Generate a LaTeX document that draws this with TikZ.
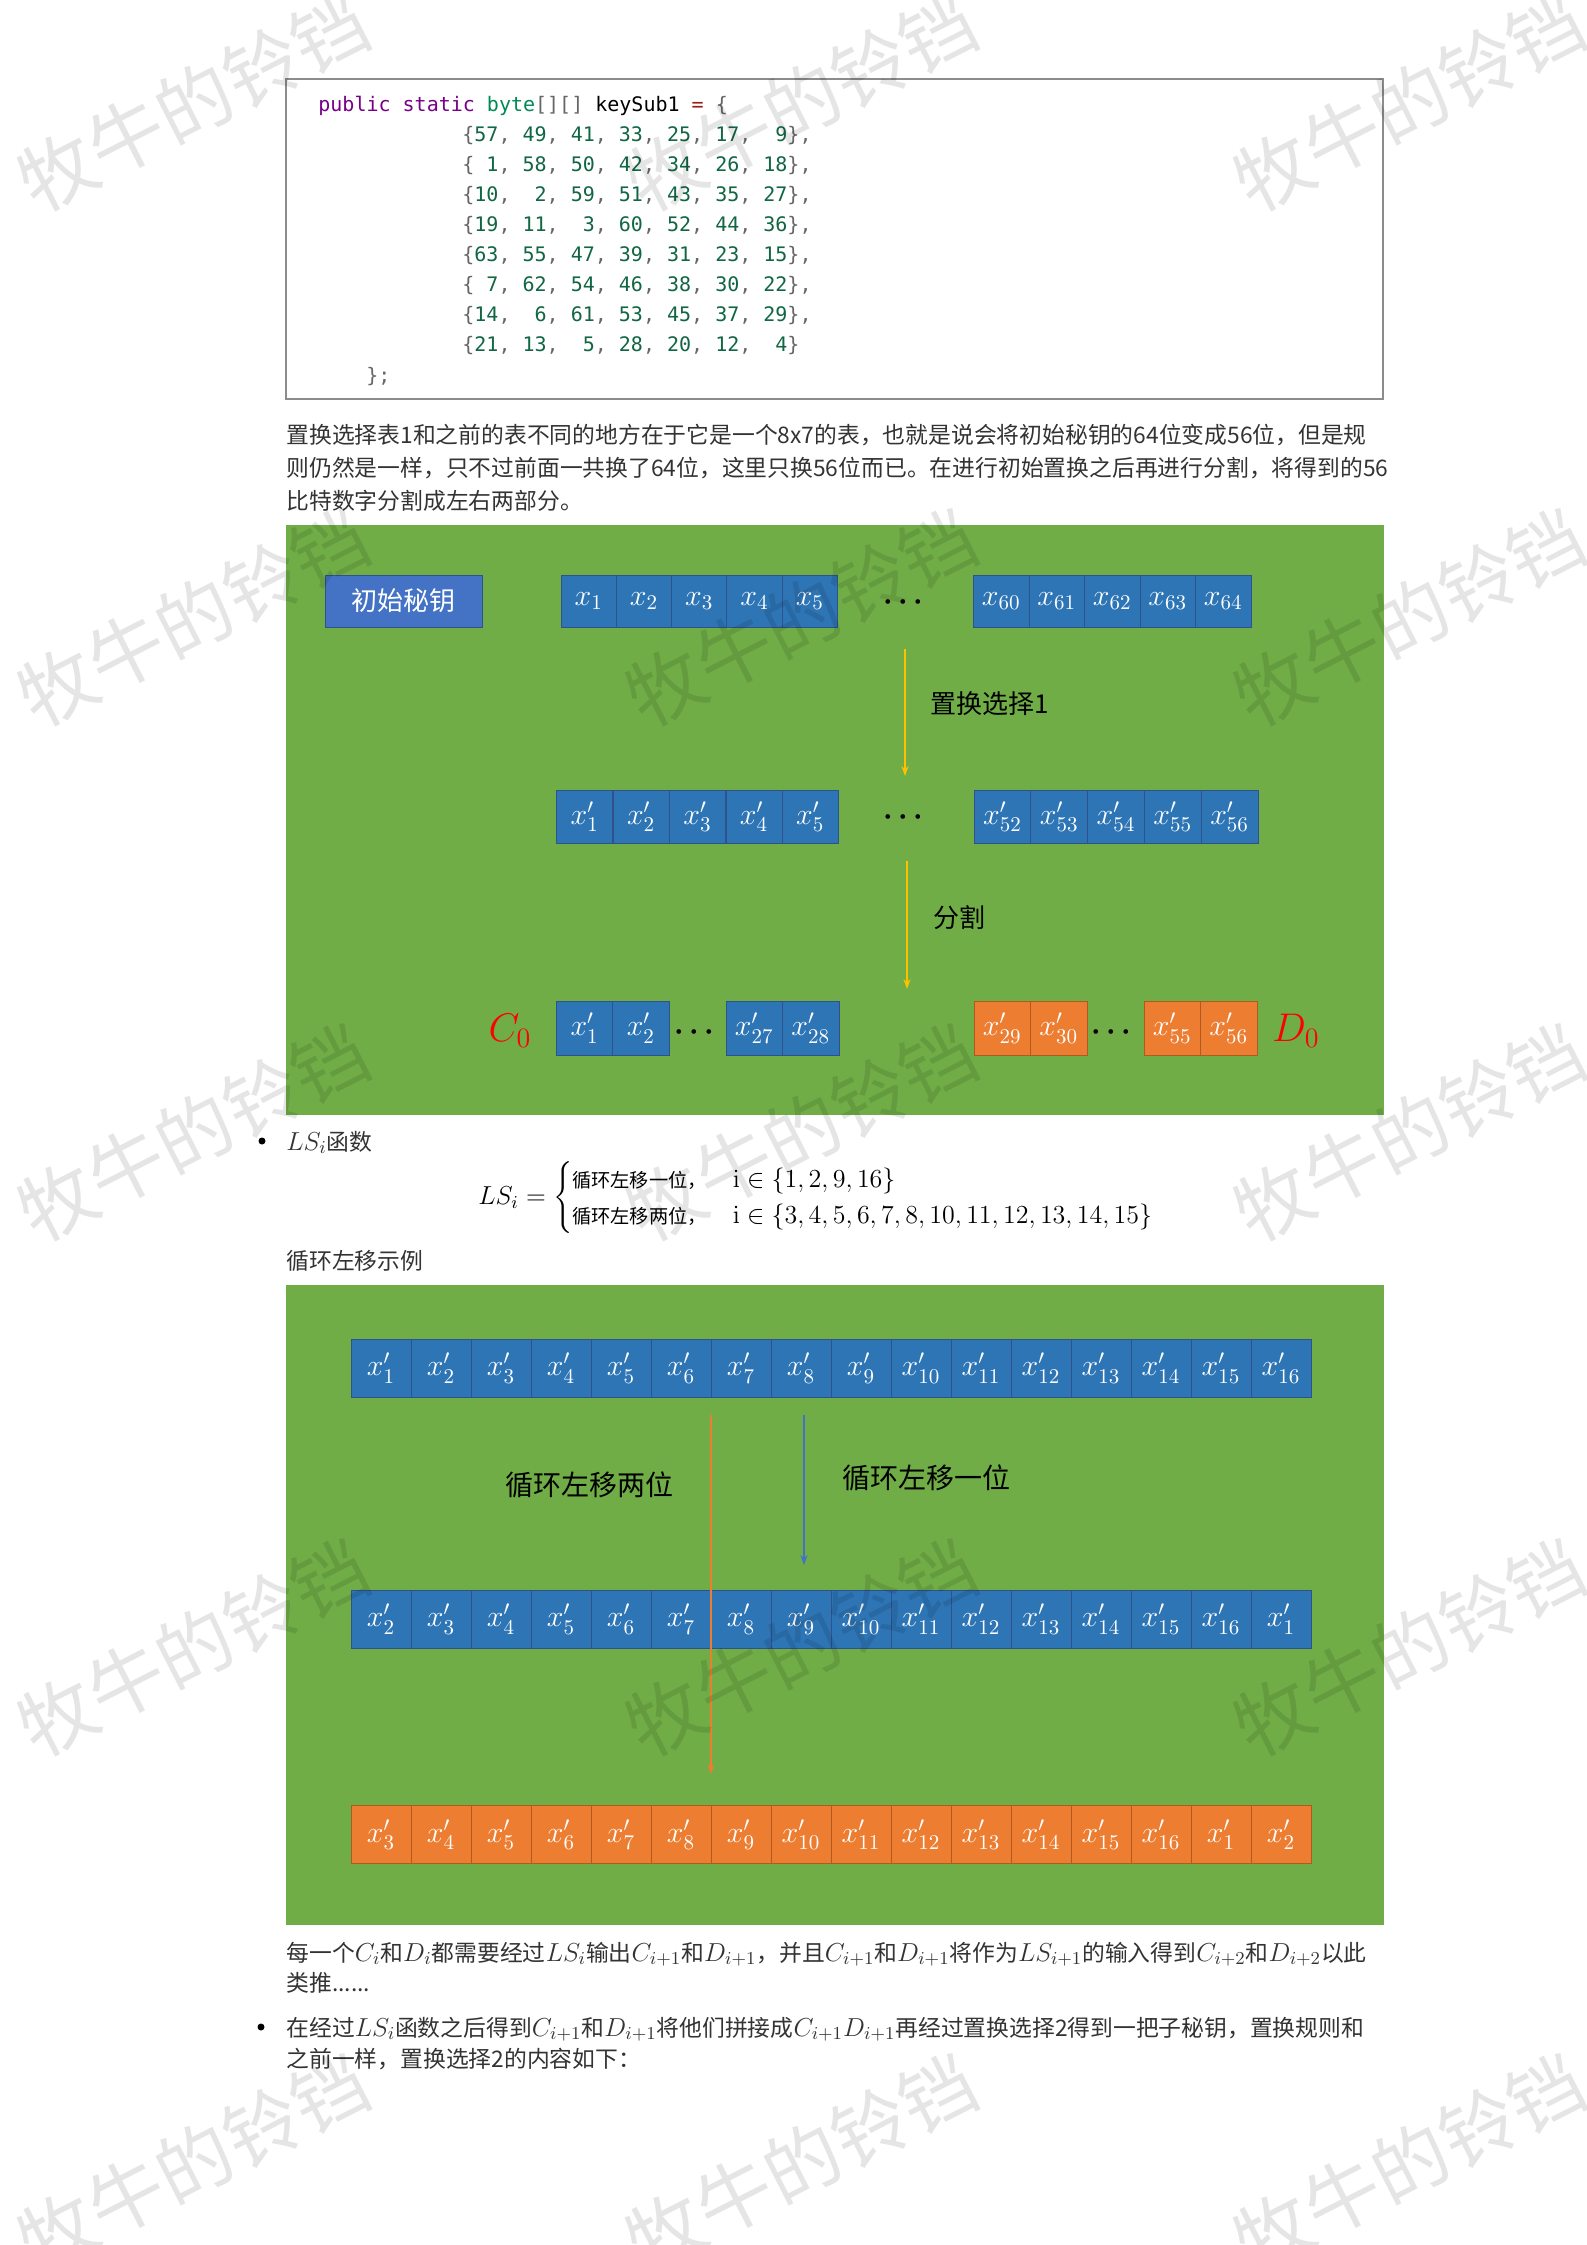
\RequirePackage{fix-cm}
\documentclass[tikz,border=0pt]{standalone}
\usepackage{amsmath}
\usepackage[no-math]{fontspec}
\setmainfont{Noto Sans CJK SC}
\setmonofont{DejaVu Sans Mono}
\usetikzlibrary{positioning,arrows.meta}

\definecolor{cellblue}{HTML}{2E75B6}
\definecolor{cellline}{HTML}{2F528F}
\definecolor{keyblue}{HTML}{4472C4}
\definecolor{cellorange}{HTML}{ED7D31}
\definecolor{orangeline}{HTML}{AE5A21}
\definecolor{bggreen}{HTML}{70AD47}
\definecolor{arrowyellow}{HTML}{FFC000}
\definecolor{codeframe}{HTML}{8C8C8C}
\definecolor{kwcol}{HTML}{770088}
\definecolor{typecol}{HTML}{008855}
\definecolor{numcol}{HTML}{116644}
\definecolor{opcol}{HTML}{981A1A}
\definecolor{pucol}{HTML}{666666}
\definecolor{bodytext}{HTML}{333333}

\newcommand\kn[1]{\makebox[1.204em][r]{\textcolor{numcol}{#1}}}
\newcommand\kp[1]{\textcolor{pucol}{#1}}
\newcommand\krow[8]{\kp{\{}\kn{#1}\kp{,} \kn{#2}\kp{,} \kn{#3}\kp{,} \kn{#4}\kp{,} \kn{#5}\kp{,} \kn{#6}\kp{,} \kn{#7}\kp{\}#8}}
\newcommand\mth[1]{{\fontsize{13}{15}\selectfont$#1$}}

\begin{document}
\begin{tikzpicture}[x=0.5pt,y=-0.5pt,
		cellb/.style={draw=cellline,fill=cellblue,text=white,inner sep=0pt,minimum width=27.75pt,minimum height=26pt,font=\fontsize{15}{17}\selectfont},
		cello/.style={cellb,draw=orangeline,fill=cellorange},
		cellw/.style={minimum width=30pt,minimum height=29pt},
		keybox/.style={draw=cellline,fill=keyblue,text=white,minimum width=78.5pt,minimum height=26pt,font=\fontsize{13}{15}\selectfont},
		dotsn/.style={inner sep=0pt,font=\fontsize{15}{17}\selectfont},
		steplabel/.style={anchor=west,inner sep=0pt,font=\fontsize{13}{15}\selectfont},
		cdlabel/.style={text=red,font=\fontsize{20}{22}\selectfont},
		codeline/.style={anchor=base west,inner sep=0pt,font=\ttfamily\fontsize{10}{12}\selectfont},
		bodyline/.style={anchor=base west,inner sep=0pt,text=bodytext,font=\fontsize{11.4}{14}\selectfont},
		bulletdot/.style={circle,fill=black,inner sep=0pt,minimum size=3.5pt},
		yarrow/.style={draw=arrowyellow,line width=0.7pt,-{Stealth[length=5pt,width=3.6pt]}},
		wmark/.style={text=black,text opacity=0.1,rotate=27,font=\fontsize{38}{40}\selectfont}]
		\useasboundingbox (0,0) rectangle (1586,2245);
		\fill[white] (0,0) rectangle (1586,2245);

		% code block
		\draw[draw=codeframe,line width=1.2pt] (286,79) rectangle (1383,399);
		\node[codeline] (c0) at (318,111.5) {\textcolor{kwcol}{public static} \textcolor{typecol}{byte}\kp{[][]} keySub1 \textcolor{opcol}{=} \kp{\{}};
		\foreach \row [count=\k] in {{\krow{57}{49}{41}{33}{25}{17}{9}{,}},
				{\krow{1}{58}{50}{42}{34}{26}{18}{,}},
				{\krow{10}{2}{59}{51}{43}{35}{27}{,}},
				{\krow{19}{11}{3}{60}{52}{44}{36}{,}},
				{\krow{63}{55}{47}{39}{31}{23}{15}{,}},
				{\krow{7}{62}{54}{46}{38}{30}{22}{,}},
				{\krow{14}{6}{61}{53}{45}{37}{29}{,}},
				{\krow{21}{13}{5}{28}{20}{12}{4}{}}}
			\node[codeline] (c\k) at (462,{111.5+30.05*\k}) {\row};
		\node[codeline] (c9) at (366,382) {\kp{\};}};

		\node[bodyline] (p1) at (286,443) {置换选择表1和之前的表不同的地方在于它是一个8x7的表，也就是说会将初始秘钥的64位变成56位，但是规};
		\node[bodyline] (p2) at (286,476) {则仍然是一样，只不过前面一共换了64位，这里只换56位而已。在进行初始置换之后再进行分割，将得到的56};
		\node[bodyline] (p3) at (286,509) {比特数字分割成左右两部分。};

		% permuted choice 1 and split
		\fill[bggreen] (286,525) rectangle (1384,1115);
		\node[keybox] (key) at (403.5,601) {初始秘钥};
		\foreach \i in {1,...,5}
			\node[cellb] (a\i) at ({561+(\i-0.5)*55.3},601) {$x_{\i}$};
		\foreach \i [count=\k] in {60,...,64}
			\node[cellb] (b\k) at ({973.5+(\k-0.5)*55.5},601) {$x_{\i}$};
		\node[dotsn] (d1) at (906,602) {$\boldsymbol{\cdots}$};

		\foreach \i in {1,...,5}
			\node[cellb,minimum width=28pt,minimum height=26.5pt] (e\i) at ({556.5+(\i-0.5)*56.4},817) {$x'_{\i}$};
		\foreach \i [count=\k] in {52,...,56}
			\node[cellb,minimum width=28.4pt,minimum height=26.5pt] (f\k) at ({974+(\k-0.5)*56.8},817) {$x'_{\i}$};
		\node[dotsn] (d2) at (906,817) {$\boldsymbol{\cdots}$};

		\foreach \i [count=\k] in {1,2}
			\node[cellb,minimum width=28.1pt,minimum height=27pt] (g\k) at ({556.5+(\k-0.5)*56.25},1028) {$x'_{\i}$};
		\foreach \i [count=\k] in {27,28}
			\node[cellb,minimum width=28.25pt,minimum height=27pt] (h\k) at ({726+(\k-0.5)*56.5},1028) {$x'_{\i}$};
		\foreach \i [count=\k] in {29,30}
			\node[cello,minimum width=28.25pt,minimum height=27pt] (m\k) at ({974+(\k-0.5)*56.5},1028) {$x'_{\i}$};
		\foreach \i [count=\k] in {55,56}
			\node[cello,minimum width=28.25pt,minimum height=27pt] (n\k) at ({1144+(\k-0.5)*56.5},1028) {$x'_{\i}$};
		\node[dotsn] (d3) at (697,1032) {$\boldsymbol{\cdots}$};
		\node[dotsn] (d4) at (1114,1032) {$\boldsymbol{\cdots}$};
		\node[cdlabel] (C0) at (510,1031) {$C_0$};
		\node[cdlabel] (D0) at (1296,1031) {$D_0$};

		\coordinate (k1a) at (905,649);
		\coordinate (k1b) at (905,776);
		\coordinate (k2a) at (907,861);
		\coordinate (k2b) at (907,989);
		\draw[yarrow] (k1a) -- (k1b);
		\draw[yarrow] (k2a) -- (k2b);
		\node[steplabel] (l1) at (930,704) {置换选择1};
		\node[steplabel] (l2) at (933,918) {分割};

		% LS function
		\node[bulletdot] (u1) at (262,1141) {};
		\node[bodyline] (ls) at (286,1150) {\mth{LS_i}函数};
		\node[anchor=west,inner sep=0pt] (lsf) at (478,1198) {\mth{LS_i=\begin{cases}\mbox{\fontsize{9.6}{11}\selectfont 循环左移一位，} & \mathrm{i}\in\{1,2,9,16\}\\ \mbox{\fontsize{9.6}{11}\selectfont 循环左移两位，} & \mathrm{i}\in\{3,4,5,6,7,8,10,11,12,13,14,15\}\end{cases}}};
		\node[bodyline] (ex) at (286,1269) {循环左移示例};

		% rotation example
		\fill[bggreen] (286,1285) rectangle (1384,1925);
		\foreach \i in {1,...,16}
			\node[cellb,cellw] (r\i) at ({351+(\i-0.5)*60},1368) {$x'_{\i}$};
		\foreach \i in {1,...,16} {
			\pgfmathtruncatemacro\j{mod(\i,16)+1}
			\node[cellb,cellw] (s\i) at ({351+(\i-0.5)*60},1619) {$x'_{\j}$};
		}
		\foreach \i in {1,...,16} {
			\pgfmathtruncatemacro\j{mod(\i+1,16)+1}
			\node[cello,cellw] (o\i) at ({351+(\i-0.5)*60},1834.5) {$x'_{\j}$};
		}
		\coordinate (k3a) at (711,1415);
		\coordinate (k3b) at (711,1774);
		\coordinate (k4a) at (804,1415);
		\coordinate (k4b) at (804,1565);
		\draw[yarrow,draw=cellorange] (k3a) -- (k3b);
		\draw[yarrow,draw=keyblue] (k4a) -- (k4b);
		\node[steplabel,font=\fontsize{14}{16}\selectfont] (l3) at (505,1485) {循环左移两位};
		\node[steplabel,font=\fontsize{14}{16}\selectfont] (l4) at (842,1478) {循环左移一位};

		\node[bodyline] (q1) at (286,1961) {每一个\mth{C_i}和\mth{D_i}都需要经过\mth{LS_i}输出\mth{C_{i+1}}和\mth{D_{i+1}}，并且\mth{C_{i+1}}和\mth{D_{i+1}}将作为\mth{LS_{i+1}}的输入得到\mth{C_{i+2}}和\mth{D_{i+2}}以此};
		\node[bodyline] (q2) at (286,1991) {类推......};
		\node[bulletdot] (u2) at (261,2027) {};
		\node[bodyline] (q3) at (286,2036) {在经过\mth{LS_i}函数之后得到\mth{C_{i+1}}和\mth{D_{i+1}}将他们拼接成\mth{C_{i+1}D_{i+1}}再经过置换选择2得到一把子秘钥，置换规则和};
		\node[bodyline] (q4) at (286,2067) {之前一样，置换选择2的内容如下：};

		% watermark
		\foreach \wx in {194,802,1410}
			\foreach \wy in {102,617,1132,1647,2162}
				\node[wmark] (w\wx\wy) at (\wx,\wy) {牧牛的铃铛};
	\end{tikzpicture}
\end{document}
